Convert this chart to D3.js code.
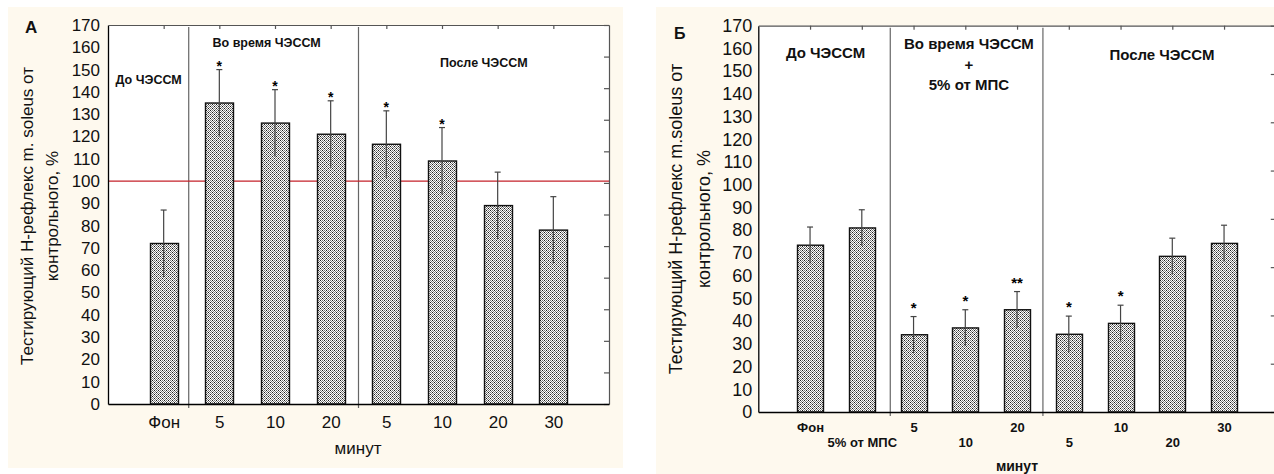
<!DOCTYPE html>
<html>
<head>
<meta charset="utf-8">
<script src="https://cdn.jsdelivr.net/npm/d3@7"></script>
<style>
  body { margin: 0; background: #fff; }
  svg { display: block; font-family: Arial, "Liberation Sans", sans-serif; }
</style>
</head>
<body>
<svg id="chart" width="1274" height="474"></svg>
<script>
// ---- data: panel A
var catsA = ["Фон", "5", "10", "20", "5", "10", "20", "30"];
var meanA = [72, 135, 126, 121, 116.5, 109, 89, 78];
var errA = [15, 15, 15, 15, 15, 15, 15, 15];
var starA = ["", "*", "*", "*", "*", "*", "", ""];
var groupsA = [["До ЧЭССМ"], ["Во время ЧЭССМ"], ["После ЧЭССМ"]];

// ---- data: panel Б
var catsB = ["Фон", "5% от МПС", "5", "10", "20", "5", "10", "20", "30"];
var meanB = [73.4, 81, 34, 37, 45, 34.2, 39, 68.5, 74.2];
var errB = [8, 8, 8, 8, 8, 8, 8, 8, 8];
var starB = ["", "", "*", "*", "**", "*", "*", "", ""];
var groupsB = [["До ЧЭССМ"], ["Во время ЧЭССМ", "+", "5% от МПС"], ["После ЧЭССМ"]];

var yTicks = d3.range(0, 171, 10);
var yTitle = ["Тестирующий Н-рефлекс m. soleus от", "контрольного, %"];
var yTitleB = ["Тестирующий Н-рефлекс m.soleus от", "контрольного, %"];

var svg = d3.select("#chart");

// штриховка столбиков
var pat = svg.append("defs").append("pattern")
  .attr("id", "hatch").attr("width", 4).attr("height", 4)
  .attr("patternUnits", "userSpaceOnUse");
pat.append("rect").attr("width", 4).attr("height", 4).attr("fill", "#fff");
[[0,0],[2,0],[1,1],[3,1],[0,2],[2,2],[1,3],[3,3]].forEach(function (p) {
  pat.append("rect").attr("x", p[0]).attr("y", p[1]).attr("width", 1).attr("height", 1).attr("fill", "#7a7a7a");
});
[[0,0],[2,2]].forEach(function (p) {
  pat.append("rect").attr("x", p[0]).attr("y", p[1]).attr("width", 1).attr("height", 1).attr("fill", "#1a1a1a");
});

function panel(o) {
  var g = svg.append("g");
  g.append("rect").attr("x", o.bg[0]).attr("y", o.bg[1]).attr("width", o.bg[2]).attr("height", o.bg[3]).attr("fill", "#fef9ee");

  var x = d3.scaleLinear().domain([0, o.cats.length + 1]).range([o.left, o.right]);
  var y = d3.scaleLinear().domain([0, 170]).range([o.bottom, o.top]);
  var pos = o.cats.map(function (d, i) { return i + 1; });

  g.append("rect").attr("x", o.left).attr("y", o.top)
    .attr("width", o.right - o.left).attr("height", o.bottom - o.top).attr("fill", "#fff");

  // separators
  g.selectAll(".sep").data(o.seps).enter().append("line")
    .attr("x1", function (d) { return x(d); }).attr("x2", function (d) { return x(d); })
    .attr("y1", o.top + 2).attr("y2", o.bottom + 4)
    .attr("stroke", "#666").attr("stroke-width", 1.2);

  // reference line
  if (o.ref) {
    g.append("line").attr("x1", o.left).attr("x2", o.right)
      .attr("y1", y(o.ref)).attr("y2", y(o.ref))
      .attr("stroke", "#c4222a").attr("stroke-width", 1.2);
  }

  // bars
  var bw = x(0.5) - x(0);
  g.selectAll(".bar").data(o.means).enter().append("rect")
    .attr("x", function (d, i) { return Math.round(x(pos[i]) - bw / 2) + 0.5; })
    .attr("y", function (d) { return y(d); })
    .attr("width", Math.round(bw))
    .attr("height", function (d) { return y(0) - y(d); })
    .attr("fill", "url(#hatch)").attr("stroke", "#111").attr("stroke-width", 1.4);

  // error bars
  var eb = g.selectAll(".err").data(o.means).enter().append("g").attr("stroke", "#444").attr("stroke-width", 1.2);
  eb.append("line")
    .attr("x1", function (d, i) { return x(pos[i]); }).attr("x2", function (d, i) { return x(pos[i]); })
    .attr("y1", function (d, i) { return y(d - o.errs[i]); })
    .attr("y2", function (d, i) { return y(d + o.errs[i]); });
  eb.append("line")
    .attr("x1", function (d, i) { return x(pos[i]) - 3; }).attr("x2", function (d, i) { return x(pos[i]) + 3; })
    .attr("y1", function (d, i) { return y(d + o.errs[i]); })
    .attr("y2", function (d, i) { return y(d + o.errs[i]); });

  // stars
  g.selectAll(".star").data(o.stars).enter().append("text")
    .attr("x", function (d, i) { return x(pos[i]); })
    .attr("y", function (d, i) { return y(o.means[i] + o.errs[i]) + o.starDy; })
    .attr("text-anchor", "middle").attr("font-size", o.starSize).attr("font-weight", "bold")
    .text(function (d) { return d; });

  // axes
  var yAx = g.append("g").attr("transform", "translate(" + o.left + ",0)")
    .call(d3.axisLeft(y).tickValues(yTicks).tickSize(0).tickSizeOuter(0).tickPadding(o.yPad));
  yAx.select(".domain").attr("stroke", "#000").attr("stroke-width", 1.3);
  yAx.selectAll("text").attr("font-size", o.yFont).attr("fill", "#111").attr("font-family", "Arial, Liberation Sans, sans-serif");

  var top = g.append("g").attr("transform", "translate(0," + o.top + ")")
    .call(d3.axisBottom(x).tickValues(pos).tickSize(4).tickSizeOuter(0).tickFormat(""));
  top.selectAll("line, path").attr("stroke", "#555").attr("stroke-width", 1.2);

  var rs = d3.scaleLinear().domain([0, o.rightTicks]).range([o.bottom, o.top]);
  var rAx = g.append("g").attr("transform", "translate(" + o.right + ",0)")
    .call(d3.axisLeft(rs).ticks(o.rightTicks).tickSize(5).tickSizeOuter(0).tickFormat(""));
  rAx.selectAll("line, path").attr("stroke", "#555").attr("stroke-width", 1.2);

  var xAx = g.append("g").attr("transform", "translate(0," + o.bottom + ")")
    .call(d3.axisBottom(x).tickValues(pos).tickSize(0).tickSizeOuter(0).tickPadding(o.xPad)
      .tickFormat(function (d) { return o.cats[d - 1]; }));
  xAx.select(".domain").attr("stroke", "#000").attr("stroke-width", 1.3);
  xAx.selectAll("text").attr("font-size", o.xFont).attr("font-weight", o.xWeight).attr("fill", "#111")
    .attr("font-family", "Arial, Liberation Sans, sans-serif")
    .attr("transform", function (d, i) { return o.twoRows && i % 2 ? "translate(0," + o.rowGap + ")" : null; });

  // x title
  g.append("text").attr("x", o.xTitle[0]).attr("y", o.xTitle[1]).attr("text-anchor", "middle")
    .attr("font-size", o.xTitleSize).attr("font-weight", o.xWeight).attr("fill", "#111").text("минут");

  // y title
  o.yTitle.forEach(function (t, i) {
    g.append("text").attr("transform", "translate(" + o.yTitleX[i] + "," + o.yTitleY + ") rotate(-90)")
      .attr("text-anchor", "middle").attr("font-size", o.yTitleSize).attr("fill", "#111").text(t);
  });

  // panel letter
  g.append("text").attr("x", o.letter[1]).attr("y", o.letter[2]).attr("font-size", o.letter[3])
    .attr("font-weight", "bold").attr("fill", "#111").text(o.letter[0]);

  // group labels
  o.groups.forEach(function (lines, gi) {
    var p = o.groupPos[gi];
    lines.forEach(function (t, li) {
      g.append("text").attr("x", x(p[0])).attr("y", p[1] + li * o.groupLine)
        .attr("text-anchor", "middle").attr("font-size", o.groupSize).attr("font-weight", "bold")
        .attr("fill", "#111").text(t);
    });
  });
}

panel({
  cats: catsA, means: meanA, errs: errA, stars: starA, groups: groupsA,
  left: 108, right: 609, top: 25, bottom: 404,
  bg: [8, 7, 615, 461], seps: [1.45, 4.5], ref: 100, rightTicks: 12,
  yPad: 8, yFont: 17, xPad: 12, xFont: 17, xWeight: "normal", twoRows: false,
  xTitle: [358, 454], xTitleSize: 17,
  yTitle: yTitle, yTitleX: [33, 58], yTitleY: 216, yTitleSize: 17,
  letter: ["А", 25, 33, 17],
  groupPos: [[0.73, 84], [2.85, 47], [6.75, 67]], groupLine: 20, groupSize: 12.5,
  starDy: 1, starSize: 14
});

panel({
  cats: catsB, means: meanB, errs: errB, stars: starB, groups: groupsB,
  left: 758.3, right: 1275.8, top: 25.7, bottom: 412,
  bg: [656, 7, 618, 467], seps: [2.55, 5.5], ref: null, rightTicks: 8,
  yPad: 6, yFont: 18, xPad: 11, xFont: 13, xWeight: "bold", twoRows: true, rowGap: 14.5,
  xTitle: [1017, 471], xTitleSize: 14,
  yTitle: yTitleB, yTitleX: [682, 710], yTitleY: 219, yTitleSize: 18,
  letter: ["Б", 674, 39, 16],
  groupPos: [[1.3, 58], [4.07, 49], [7.8, 60]], groupLine: 20.5, groupSize: 15,
  starDy: -4, starSize: 15
});
</script>
</body>
</html>
